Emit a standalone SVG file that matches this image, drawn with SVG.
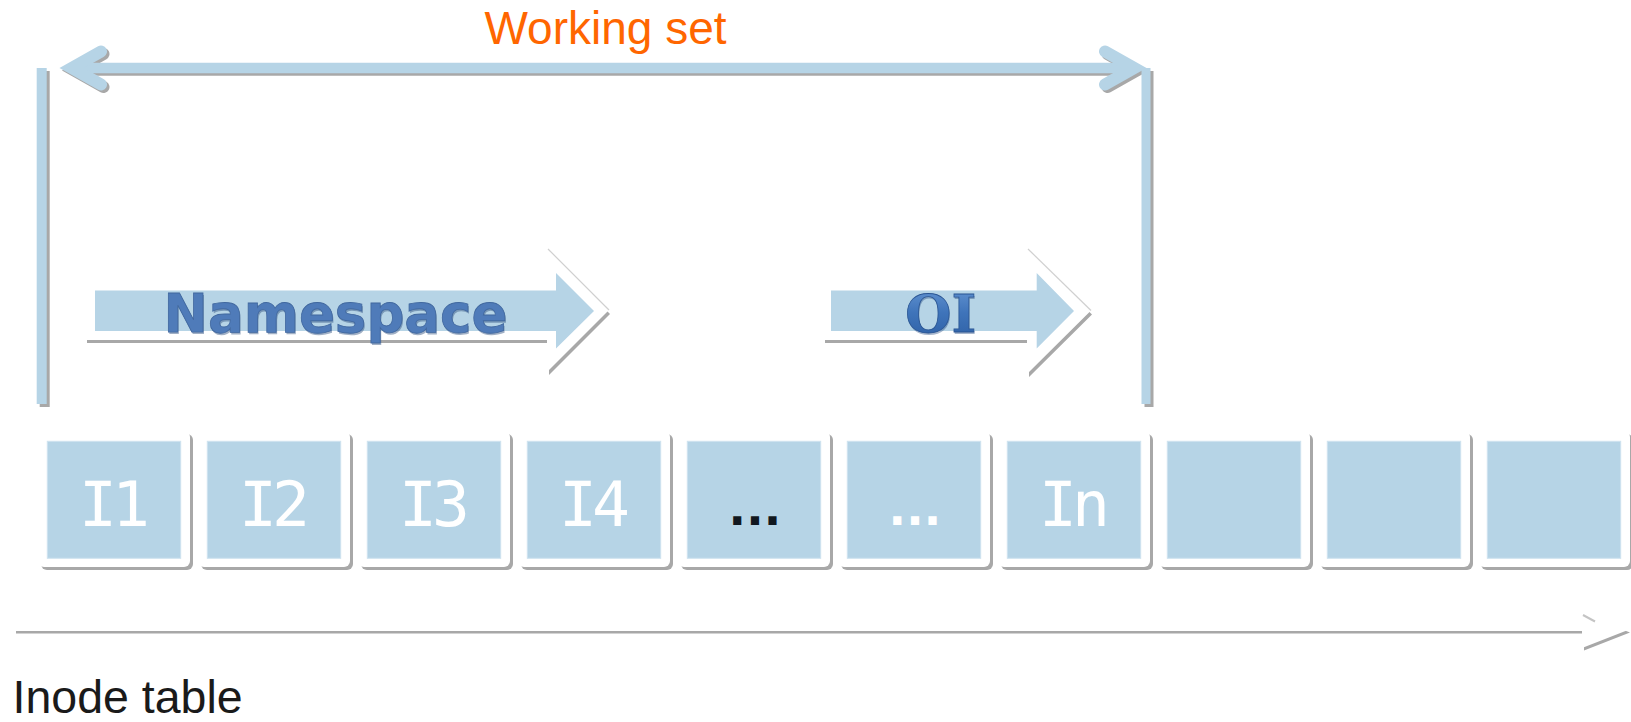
<svg xmlns="http://www.w3.org/2000/svg" width="1631" height="722" viewBox="0 0 1631 722">
<defs>
<style>
.blue{fill:#b6d4e6}
.bstroke{stroke:#b6d4e6;fill:none}
.shd{fill:#a8a8a8}
.sstroke{stroke:#a8a8a8;fill:none}
.card{fill:#ffffff}
.inner{fill:#b6d4e6;stroke:#cfe3ef;stroke-width:1}
.lbl{font-family:"DejaVu Sans Mono",monospace;font-size:63px;fill:#ffffff;text-anchor:middle;letter-spacing:-5px}
.dots{font-family:"DejaVu Sans",sans-serif;font-weight:bold;font-size:46px;text-anchor:middle;letter-spacing:0.2px}
.warm{fill:#ffffff}
</style>
<linearGradient id="oiGrad" x1="0" y1="0" x2="0" y2="1">
<stop offset="0" stop-color="#6a9ad6"/>
<stop offset="0.5" stop-color="#3f74ba"/>
<stop offset="1" stop-color="#2c5ea3"/>
</linearGradient>
</defs>
<rect x="0" y="0" width="1631" height="722" fill="#ffffff"/>

<text id="working-set-label" x="605.5" y="44.3" font-family="Liberation Sans, Arial, sans-serif" font-size="46" fill="#ff6600" text-anchor="middle">Working set</text>

<g id="connectors">
  <rect class="shd" x="39.7" y="71" width="10" height="336"/>
  <rect class="shd" x="1144.5" y="71" width="9" height="336"/>
  <g transform="translate(2.5,2.5)" class="sstroke">
    <path d="M72 68 H1134" stroke-width="10.5"/>
    <path d="M101 51.5 L71.7 68 L101 84.5 M1105 51.5 L1134.3 68 L1105 84.5" stroke-width="12" stroke-linecap="round" stroke-linejoin="miter" stroke-miterlimit="10"/>
  </g>
  <rect class="blue" x="36.7" y="68" width="10" height="336"/>
  <rect class="blue" x="1141.5" y="68" width="9" height="336"/>
  <g class="bstroke">
    <path d="M72 68 H1134" stroke-width="10.5"/>
    <path d="M101 51.5 L71.7 68 L101 84.5 M1105 51.5 L1134.3 68 L1105 84.5" stroke-width="12" stroke-linecap="round" stroke-linejoin="miter" stroke-miterlimit="10"/>
  </g>
</g>

<g id="namespace-arrow">
  <polygon class="shd" transform="translate(2,3)" points="85,286 547,286 547,250 608,311 547,372 547,340 85,340"/>
  <polygon class="warm" points="85,286 547,286 547,250 608,311 547,372 547,340 85,340"/>
  <line x1="548" y1="249" x2="609" y2="310" stroke="#d0d0d0" stroke-width="1.2"/>
  <polygon class="blue" points="95,290.5 556,290.5 556,273 594,311 556,348.5 556,331 95,331"/>
  <text x="336.5" y="333.5" font-family="DejaVu Sans, sans-serif" font-weight="bold" font-size="53" fill="#2f4f7f" fill-opacity="0.45" text-anchor="middle">Namespace</text>
  <text x="335.5" y="331.5" font-family="DejaVu Sans, sans-serif" font-weight="bold" font-size="53" fill="#4f7bb9" stroke="#41689f" stroke-width="0.8" text-anchor="middle">Namespace</text>
</g>

<g id="oi-arrow">
  <polygon class="shd" transform="translate(2,3)" points="823,286 1027,286 1027,250 1090,311.5 1027,374 1027,340 823,340"/>
  <polygon class="warm" points="823,286 1027,286 1027,250 1090,311.5 1027,374 1027,340 823,340"/>
  <line x1="1028" y1="249" x2="1091" y2="310.5" stroke="#d0d0d0" stroke-width="1.2"/>
  <polygon class="blue" points="831,290.5 1036.7,290.5 1036.7,273 1074,311 1036.7,348.5 1036.7,331 831,331"/>
  <text x="941.5" y="333.5" font-family="DejaVu Serif, serif" font-weight="bold" font-size="53" fill="#24497f" fill-opacity="0.4" text-anchor="middle">OI</text>
  <text x="940.8" y="331.5" font-family="DejaVu Serif, serif" font-weight="bold" font-size="53" fill="url(#oiGrad)" stroke="#2a5593" stroke-width="0.8" text-anchor="middle">OI</text>
</g>

<g id="inode-row">
  <g id="node-1"><rect class="shd" x="41" y="434" width="152" height="136" rx="6"/><rect class="card" x="38" y="431" width="152" height="136" rx="6"/><rect class="inner" x="47.3" y="441.3" width="133.4" height="117"/><text class="lbl" x="112" y="526">I1</text></g>
  <g id="node-2"><rect class="shd" x="201" y="434" width="152" height="136" rx="6"/><rect class="card" x="198" y="431" width="152" height="136" rx="6"/><rect class="inner" x="207.3" y="441.3" width="133.4" height="117"/><text class="lbl" x="272" y="526">I2</text></g>
  <g id="node-3"><rect class="shd" x="361" y="434" width="152" height="136" rx="6"/><rect class="card" x="358" y="431" width="152" height="136" rx="6"/><rect class="inner" x="367.3" y="441.3" width="133.4" height="117"/><text class="lbl" x="432" y="526">I3</text></g>
  <g id="node-4"><rect class="shd" x="521" y="434" width="152" height="136" rx="6"/><rect class="card" x="518" y="431" width="152" height="136" rx="6"/><rect class="inner" x="527.3" y="441.3" width="133.4" height="117"/><text class="lbl" x="592" y="526">I4</text></g>
  <g id="node-5"><rect class="shd" x="681" y="434" width="152" height="136" rx="6"/><rect class="card" x="678" y="431" width="152" height="136" rx="6"/><rect class="inner" x="687.3" y="441.3" width="133.4" height="117"/><text class="dots" x="755" y="525" fill="#111820">...</text></g>
  <g id="node-6"><rect class="shd" x="841" y="434" width="152" height="136" rx="6"/><rect class="card" x="838" y="431" width="152" height="136" rx="6"/><rect class="inner" x="847.3" y="441.3" width="133.4" height="117"/><text class="dots" x="915" y="525" fill="#ffffff">...</text></g>
  <g id="node-7"><rect class="shd" x="1001" y="434" width="152" height="136" rx="6"/><rect class="card" x="998" y="431" width="152" height="136" rx="6"/><rect class="inner" x="1007.3" y="441.3" width="133.4" height="117"/><text class="lbl" x="1072" y="526">In</text></g>
  <g id="node-8"><rect class="shd" x="1161" y="434" width="152" height="136" rx="6"/><rect class="card" x="1158" y="431" width="152" height="136" rx="6"/><rect class="inner" x="1167.3" y="441.3" width="133.4" height="117"/></g>
  <g id="node-9"><rect class="shd" x="1321" y="434" width="152" height="136" rx="6"/><rect class="card" x="1318" y="431" width="152" height="136" rx="6"/><rect class="inner" x="1327.3" y="441.3" width="133.4" height="117"/></g>
  <g id="node-10"><rect class="shd" x="1481" y="434" width="152" height="136" rx="6"/><rect class="card" x="1478" y="431" width="152" height="136" rx="6"/><rect class="inner" x="1487.3" y="441.3" width="133.4" height="117"/></g>
</g>

<g id="table-arrow">
  <polygon class="shd" transform="translate(2,2.5)" points="14,622 1582,622 1582,612 1628,630 1582,648 1582,631 14,631"/>
  <polygon class="warm" points="14,622 1582,622 1582,612 1628,630 1582,648 1582,631 14,631"/>
  <line x1="1583" y1="615" x2="1595" y2="621.5" stroke="#c4c4c4" stroke-width="2"/>
</g>

<text id="inode-table-label" x="12.5" y="713" font-family="Liberation Sans, Arial, sans-serif" font-size="46.5" fill="#1a1a1a">Inode table</text>
</svg>
